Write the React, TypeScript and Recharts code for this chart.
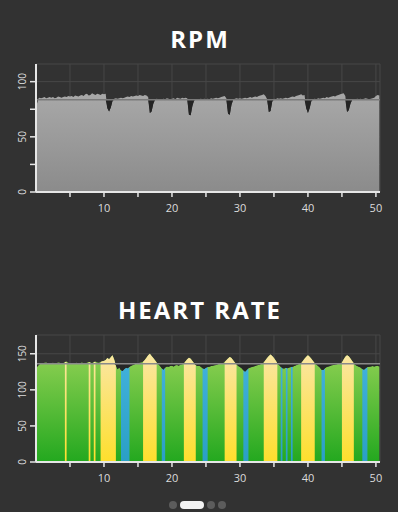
import { Area, CartesianGrid, ComposedChart, ReferenceLine, XAxis, YAxis } from "recharts"

// minutes between two samples
const STEP = 0.25

const RPM = [
  75, 84, 85.5, 85, 85.5, 86, 85, 85.5, 86, 85.5, 86, 85, 85.5, 86.5, 86, 85.5, 86, 86.5, 86, 87,
  86.5, 87, 86, 87.5, 87, 86.5, 87.5, 88, 87, 88.5, 89, 87.5, 88, 89.5, 88.5, 88, 89, 88.5, 88, 89,
  88.5, 89, 76, 73, 76.5, 82.5, 84.5, 85, 84.5, 85, 85.5, 85, 85.5, 86, 86.5, 86, 87, 86.5, 87, 87.5,
  87, 88, 87.5, 87, 88, 87.5, 86, 71.5, 73, 80, 83.5, 84.5, 84, 83.5, 84, 84.5, 84, 85, 84.5, 84,
  84.5, 85, 84, 85.5, 85, 84.5, 85.5, 85, 85.5, 85, 70, 69.5, 78, 83, 84, 83.5, 84, 84.5, 84, 84.5,
  84, 84.5, 84, 85, 84.5, 85, 85.5, 85, 85.5, 86, 86.5, 87, 85, 71, 70, 79, 83.5, 84.5, 85, 84.5,
  85, 84.5, 85, 85.5, 85, 85.5, 86, 85.5, 86, 86.5, 86, 87, 87.5, 88, 88.5, 87, 84, 72.5, 73.5, 82,
  84.5, 84, 85, 84.5, 85, 84.5, 85, 85.5, 85, 85.5, 86, 86.5, 86, 87, 87.5, 88, 88.5, 87.5, 88, 76,
  71.5, 76, 82.5, 84, 84.5, 84, 85, 84.5, 85, 85.5, 85, 86, 85.5, 86, 86.5, 87, 86.5, 87.5, 88, 88.5,
  89, 89.5, 87, 72.5, 74, 80, 83.5, 83.5, 84, 84.5, 84, 84.5, 84, 84.5, 85, 84.5, 84, 84.5, 85, 85.5,
  87, 88, 87.5,
]
const RPM_AVG = 83.5

const HEART_RATE = [
  130, 133, 135.5, 137, 136.5, 137.5, 138, 137, 136, 137, 137.5, 136.5, 137, 138, 137.5, 136.5, 137, 138.5, 139, 137.5,
  136.5, 137, 136, 137, 137.5, 136.5, 137, 138, 137, 136.5, 137.5, 138.5, 138, 137, 138.5, 139, 138, 137.5, 138.5, 139.5,
  140, 141.5, 144, 142.5, 145, 148, 142, 134, 128.5, 131, 127, 126, 129, 130.5, 130, 132, 133.5, 134.5, 135.5, 137,
  136.5, 137.5, 138, 139, 141.5, 144.5, 148, 150, 147, 144, 141, 138, 135.5, 133, 130, 128, 131, 132.5, 132, 133,
  133.5, 132.5, 134, 134.5, 133.5, 135, 135.5, 136.5, 139.5, 142.5, 144.5, 143, 140, 137, 134.5, 133, 133.5, 132, 130, 129,
  130.5, 131.5, 132, 133, 133.5, 134, 134.5, 135.5, 136, 136.5, 137, 138.5, 141, 143.5, 145.5, 144, 141, 138, 135.5, 133,
  131.5, 130, 127, 125, 127.5, 130, 131, 131.5, 132.5, 133, 134, 134.5, 135.5, 136.5, 138, 141, 144, 147, 149, 147,
  144, 140.5, 137, 134.5, 132, 130, 129.5, 130.5, 130, 131, 131.5, 132, 133, 134, 135, 136, 137, 140, 143, 146,
  148, 146, 143, 140, 137, 135, 133, 131, 128, 127.5, 130, 131.5, 132.5, 133, 134, 134.5, 135, 135.5, 136, 137,
  138, 142, 146, 148, 146.5, 143.5, 140, 137, 134.5, 133, 132, 131, 129, 128, 130, 131.5, 132, 132.5, 133, 132.5,
  133, 133.5, 132.5,
]
const HR_AVG = 136

// [start, end] minutes of each coloured zone
const YELLOW_ZONES = [
  [4.25, 4.5], [7.75, 8], [8.5, 8.75], [9.5, 11.75], [15.75, 17.75],
  [21.75, 23.5], [27.75, 29.5], [33.5, 35.5], [39, 41], [45, 46.75],
]
const BLUE_ZONES = [
  [12.5, 13.75], [18.5, 19], [24.5, 25.25], [30.5, 31.25], [36, 36.25],
  [36.75, 37], [37.5, 37.75], [42, 42.5], [48, 48.75],
]

const X_TICKS = [5, 10, 15, 20, 25, 30, 35, 40, 45, 50]
const RPM_TICKS = [0, 25, 50, 75, 100]
const HR_TICKS = [0, 25, 50, 75, 100, 125, 150]

const inZone = (t: number, zones: number[][]) =>
  zones.some(([s, e]) => t >= s - 0.001 && t <= e + 0.001)

const rpmData = RPM.map((v, i) => ({
  t: i * STEP,
  v,
  dip: [Math.min(v, RPM_AVG), RPM_AVG],
}))

const hrData = HEART_RATE.map((v, i) => {
  const t = i * STEP
  return {
    t,
    v,
    yellow: inZone(t, YELLOW_ZONES) ? v : null,
    blue: inZone(t, BLUE_ZONES) ? v : null,
    dip: [Math.min(v, HR_AVG), HR_AVG],
  }
})

const FONT = "'Open Sans', sans-serif"
const AXIS = "#e6e6e6"

function XTick({ x, y, payload }: any) {
  if (payload.value % 10 !== 0) return <g />
  return (
    <text x={x} y={y} dy="0.71em" textAnchor="middle" fill="#dcdcdc" fontSize={11} fontFamily={FONT}>
      {payload.value}
    </text>
  )
}

function YTick({ y, payload }: any) {
  if (payload.value % 50 !== 0) return <g />
  return (
    <text
      x={0}
      y={0}
      transform={`translate(22 ${y}) rotate(-90)`}
      textAnchor="middle"
      dominantBaseline="central"
      fill="#dcdcdc"
      fontSize={10}
      fontFamily={FONT}
    >
      {payload.value}
    </text>
  )
}

function Title({ text, top }: { text: string; top: number }) {
  return (
    <div
      style={{
        position: "absolute",
        top,
        left: 0,
        width: 398,
        textAlign: "center",
        color: "#fff",
        fontFamily: FONT,
        fontWeight: 700,
        fontSize: 24,
        lineHeight: "24px",
        letterSpacing: 2,
        paddingLeft: 2,
        boxSizing: "border-box",
      }}
    >
      {text}
    </div>
  )
}

export default function App() {
  const xAxis = (
    <XAxis
      dataKey="t"
      type="number"
      domain={[0, 50.6]}
      ticks={X_TICKS}
      allowDataOverflow
      height={28}
      tickSize={5}
      tickMargin={7}
      axisLine={{ stroke: AXIS, strokeWidth: 2 }}
      tickLine={{ stroke: AXIS, strokeWidth: 1.5 }}
      tick={XTick}
    />
  )

  return (
    <div style={{ position: "fixed", inset: 0, background: "#323232" }}>
      <Title text="RPM" top={27} />
      <div style={{ position: "absolute", top: 0, left: 0 }}>
        <ComposedChart width={398} height={220} data={rpmData} margin={{ top: 64, right: 18, bottom: 0, left: 0 }}>
          <defs>
            <linearGradient id="rpmFill" x1="0" y1="0" x2="0" y2="1">
              <stop offset="0%" stopColor="#a8a8a8" />
              <stop offset="100%" stopColor="#8b8b8b" />
            </linearGradient>
          </defs>
          <CartesianGrid stroke="#474747" strokeWidth={1} />
          <Area type="linear" dataKey="v" fill="url(#rpmFill)" fillOpacity={1} stroke="none" dot={false} activeDot={false} isAnimationActive={false} />
          <Area type="linear" dataKey="dip" fill="#242424" fillOpacity={1} stroke="none" dot={false} activeDot={false} isAnimationActive={false} />
          <ReferenceLine y={RPM_AVG} stroke="#7a7a7a" strokeWidth={1.5} />
          {xAxis}
          <YAxis
            width={36}
            domain={[0, 116]}
            ticks={RPM_TICKS}
            allowDataOverflow
            tickSize={6}
            axisLine={{ stroke: AXIS, strokeWidth: 2 }}
            tickLine={{ stroke: AXIS, strokeWidth: 1.5 }}
            tick={YTick}
          />
        </ComposedChart>
      </div>

      <Title text="HEART RATE" top={298} />
      <div style={{ position: "absolute", top: 270, left: 0 }}>
        <ComposedChart width={398} height={220} data={hrData} margin={{ top: 65, right: 18, bottom: 0, left: 0 }}>
          <defs>
            <linearGradient id="hrGreen" x1="0" y1="0" x2="0" y2="1">
              <stop offset="0%" stopColor="#8ed052" />
              <stop offset="100%" stopColor="#23a81f" />
            </linearGradient>
            <linearGradient id="hrYellow" x1="0" y1="0" x2="0" y2="1">
              <stop offset="0%" stopColor="#fae6a4" />
              <stop offset="100%" stopColor="#fedf2c" />
            </linearGradient>
            <linearGradient id="hrBlue" x1="0" y1="0" x2="0" y2="1">
              <stop offset="0%" stopColor="#40b0da" />
              <stop offset="100%" stopColor="#2a9fc6" />
            </linearGradient>
          </defs>
          <CartesianGrid stroke="#474747" strokeWidth={1} />
          <Area type="linear" dataKey="v" fill="url(#hrGreen)" fillOpacity={1} stroke="none" dot={false} activeDot={false} isAnimationActive={false} />
          <Area type="linear" dataKey="yellow" fill="url(#hrYellow)" fillOpacity={1} stroke="none" dot={false} activeDot={false} isAnimationActive={false} />
          <Area type="linear" dataKey="blue" fill="url(#hrBlue)" fillOpacity={1} stroke="none" dot={false} activeDot={false} isAnimationActive={false} />
          <Area type="linear" dataKey="dip" fill="#262626" fillOpacity={1} stroke="none" dot={false} activeDot={false} isAnimationActive={false} />
          <ReferenceLine y={HR_AVG} stroke="#8a8a8a" strokeWidth={1.5} />
          {xAxis}
          <YAxis
            width={36}
            domain={[0, 176]}
            ticks={HR_TICKS}
            allowDataOverflow
            tickSize={6}
            axisLine={{ stroke: AXIS, strokeWidth: 2 }}
            tickLine={{ stroke: AXIS, strokeWidth: 1.5 }}
            tick={YTick}
          />
        </ComposedChart>
      </div>

      <div style={{ position: "absolute", top: 501, left: 169, display: "flex", gap: 3, alignItems: "center" }}>
        <div style={{ width: 8, height: 8, borderRadius: 4, background: "#5c5c5c" }} />
        <div style={{ width: 24, height: 8, borderRadius: 4, background: "#f2f2f2" }} />
        <div style={{ width: 8, height: 8, borderRadius: 4, background: "#5c5c5c" }} />
        <div style={{ width: 8, height: 8, borderRadius: 4, background: "#5c5c5c" }} />
      </div>
    </div>
  )
}
